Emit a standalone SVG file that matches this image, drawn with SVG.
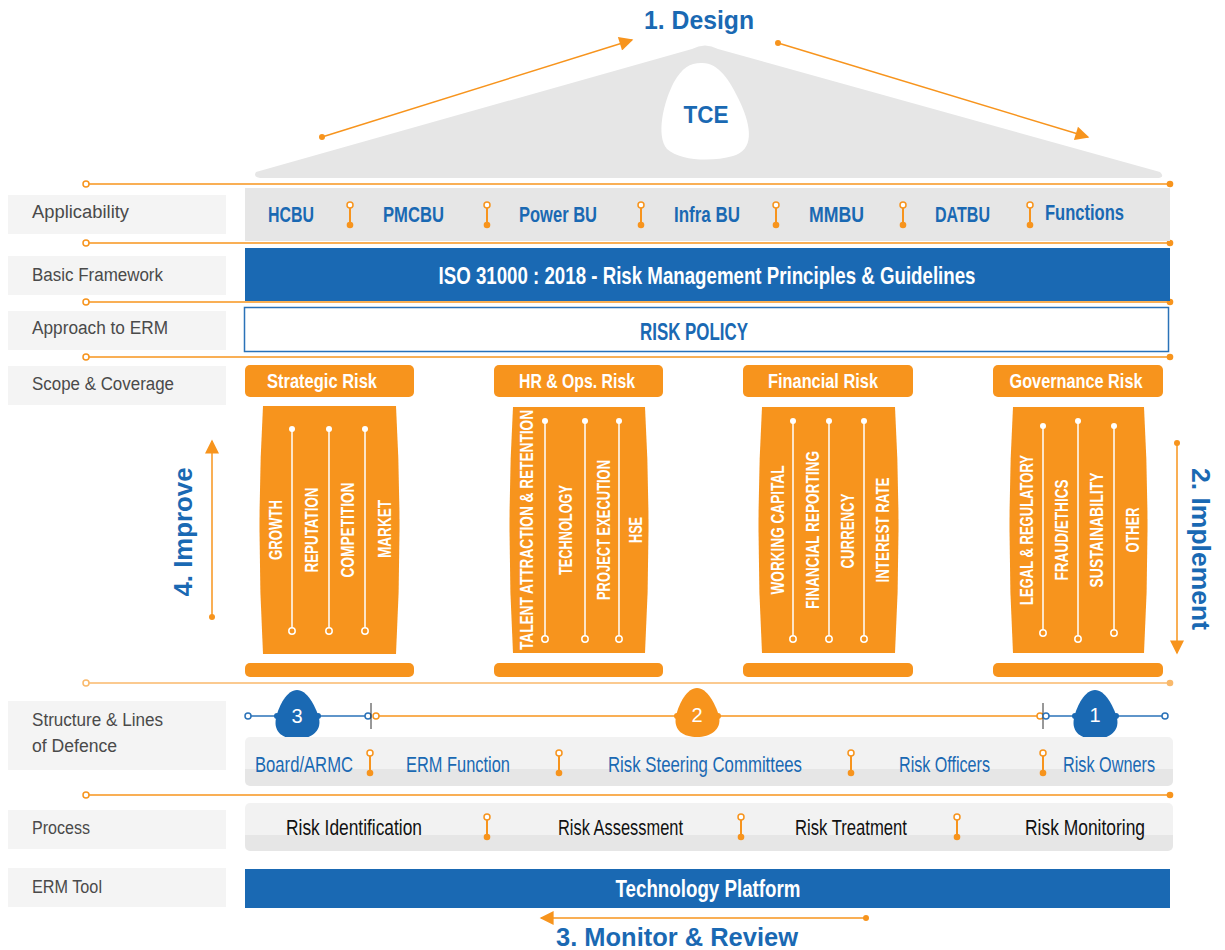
<svg xmlns="http://www.w3.org/2000/svg" width="1225" height="950" viewBox="0 0 1225 950">
<style>
.lbl{fill:#f4f4f4}
.lt{font-family:"Liberation Sans",Arial,sans-serif;font-size:18px;fill:#4a4a4a}
.c{font-family:"Liberation Sans Narrow","Liberation Sans",Arial,sans-serif}
.b{font-weight:bold}
.blue{fill:#1a69b3}
.or{fill:#f7941d}
.wt{fill:#fff}
.bk{fill:#111}
.ol{stroke:#f7941d;stroke-width:1.5;fill:none}
.bl{stroke:#2a72b8;stroke-width:1.5;fill:none}
.pl{stroke:#fff;stroke-width:1.5}
</style>
<defs>
<g id="sep"><line x1="0" y1="0" x2="0" y2="20" stroke="#f7941d" stroke-width="2"/><circle cx="0" cy="0" r="3" fill="#fff" stroke="#f7941d" stroke-width="1.5"/><circle cx="0" cy="20" r="3.3" fill="#f7941d"/></g>
<g id="rule"><line x1="89" y1="0" x2="1170" y2="0" stroke="#f7941d" stroke-width="1.5"/><circle cx="86" cy="0" r="3" fill="#fff" stroke="#f7941d" stroke-width="1.5"/><circle cx="1170" cy="0" r="3.3" fill="#f7941d"/></g>
<marker id="ah" viewBox="0 0 10 10" refX="9" refY="5" markerWidth="16" markerHeight="14" markerUnits="userSpaceOnUse" orient="auto"><path d="M0,0 L10,5 L0,10 Z" fill="#f7941d"/></marker>
<linearGradient id="gb" x1="0" y1="0" x2="0" y2="1"><stop offset="0" stop-color="#f2f2f2"/><stop offset="0.66" stop-color="#f2f2f2"/><stop offset="0.66" stop-color="#e6e6e6"/><stop offset="1" stop-color="#e6e6e6"/></linearGradient>
</defs>

<!-- Roof -->
<g id="roof">
<path d="M264,178 L1156,178 Q1166,178 1160,172 L718,49 Q705,42 692,49 L256,172 Q252,178 264,178 Z" fill="#e6e6e6"/>
<path d="M701,63 C718,62 730,80 740,102 C752,128 754,150 733,156 C712,162 680,161 667,149 C656,136 663,103 674,82 C682,68 690,63 701,63 Z" fill="#fff"/>
<text x="706" y="123" text-anchor="middle" class="c b blue" font-size="24" textLength="45" lengthAdjust="spacingAndGlyphs">TCE</text>
</g>
<text x="699" y="29" text-anchor="middle" class="c b blue" font-size="26" textLength="110" lengthAdjust="spacingAndGlyphs">1. Design</text>

<!-- Connectors -->
<g id="connectors">
<line x1="322" y1="137" x2="632" y2="40" stroke="#f7941d" stroke-width="1.5" marker-end="url(#ah)"/>
<circle cx="322" cy="137" r="3" fill="#f7941d"/>
<line x1="778" y1="43" x2="1088" y2="137" stroke="#f7941d" stroke-width="1.5" marker-end="url(#ah)"/>
<circle cx="778" cy="43" r="3" fill="#f7941d"/>
<line x1="1177" y1="443" x2="1177" y2="653" stroke="#f7941d" stroke-width="1.5" marker-end="url(#ah)"/>
<circle cx="1177" cy="443" r="3" fill="#f7941d"/>
<line x1="212" y1="617" x2="212" y2="441" stroke="#f7941d" stroke-width="1.5" marker-end="url(#ah)"/>
<circle cx="212" cy="617" r="3" fill="#f7941d"/>
<line x1="866" y1="918" x2="541" y2="918" stroke="#f7941d" stroke-width="1.5" marker-end="url(#ah)"/>
<circle cx="866" cy="918" r="3" fill="#f7941d"/>
<use href="#rule" y="184"/>
<use href="#rule" y="243"/>
<use href="#rule" y="302"/>
<use href="#rule" y="357"/>
<use href="#rule" y="683" opacity="0.65"/>
<use href="#rule" y="795"/>
</g>

<text transform="translate(1192,549) rotate(90)" text-anchor="middle" class="c b blue" font-size="26" textLength="162" lengthAdjust="spacingAndGlyphs">2. Implement</text>
<text transform="translate(192,532) rotate(-90)" text-anchor="middle" class="c b blue" font-size="26" textLength="129" lengthAdjust="spacingAndGlyphs">4. Improve</text>
<text x="677" y="946" text-anchor="middle" class="c b blue" font-size="26" textLength="242" lengthAdjust="spacingAndGlyphs">3. Monitor &amp; Review</text>

<!-- Left labels -->
<g id="labels">
<rect class="lbl" x="8" y="195" width="218" height="39"/><text class="lt" x="32" y="218" textLength="97" lengthAdjust="spacingAndGlyphs">Applicability</text>
<rect class="lbl" x="8" y="256" width="218" height="39"/><text class="lt" x="32" y="281" textLength="131" lengthAdjust="spacingAndGlyphs">Basic Framework</text>
<rect class="lbl" x="8" y="311" width="218" height="39"/><text class="lt" x="32" y="334" textLength="136" lengthAdjust="spacingAndGlyphs">Approach to ERM</text>
<rect class="lbl" x="8" y="366" width="218" height="39"/><text class="lt" x="32" y="390" textLength="142" lengthAdjust="spacingAndGlyphs">Scope &amp; Coverage</text>
<rect class="lbl" x="8" y="701" width="218" height="69"/><text class="lt" x="32" y="726" textLength="131" lengthAdjust="spacingAndGlyphs">Structure &amp; Lines</text><text class="lt" x="32" y="752" textLength="85" lengthAdjust="spacingAndGlyphs">of Defence</text>
<rect class="lbl" x="8" y="810" width="218" height="39"/><text class="lt" x="32" y="834" textLength="58" lengthAdjust="spacingAndGlyphs">Process</text>
<rect class="lbl" x="8" y="868" width="218" height="39"/><text class="lt" x="32" y="893" textLength="70" lengthAdjust="spacingAndGlyphs">ERM Tool</text>
</g>

<!-- Applicability -->
<g id="applicability">
<rect x="245" y="188" width="925" height="53" fill="#e6e6e6"/>
<g class="c b blue" font-size="22">
<text x="268" y="222" textLength="46" lengthAdjust="spacingAndGlyphs">HCBU</text>
<text x="383" y="222" textLength="61" lengthAdjust="spacingAndGlyphs">PMCBU</text>
<text x="519" y="222" textLength="78" lengthAdjust="spacingAndGlyphs">Power BU</text>
<text x="674" y="222" textLength="66" lengthAdjust="spacingAndGlyphs">Infra BU</text>
<text x="809" y="222" textLength="55" lengthAdjust="spacingAndGlyphs">MMBU</text>
<text x="935" y="222" textLength="55" lengthAdjust="spacingAndGlyphs">DATBU</text>
<text x="1045" y="220" textLength="79" lengthAdjust="spacingAndGlyphs">Functions</text>
</g>
<use href="#sep" x="350" y="205"/><use href="#sep" x="487" y="205"/><use href="#sep" x="641" y="205"/><use href="#sep" x="776" y="205"/><use href="#sep" x="903" y="205"/><use href="#sep" x="1030" y="205"/>
</g>

<!-- Basic framework -->
<g id="framework">
<rect x="245" y="248" width="925" height="53" fill="#1a69b3"/>
<text x="707" y="284" text-anchor="middle" class="c b wt" font-size="24" textLength="537" lengthAdjust="spacingAndGlyphs">ISO 31000 : 2018 - Risk Management Principles &amp; Guidelines</text>
</g>

<!-- Risk policy -->
<g id="policy">
<rect x="244.5" y="307.5" width="924" height="44" fill="#fff" stroke="#2a72b8" stroke-width="1.5"/>
<text x="694" y="340" text-anchor="middle" class="c b blue" font-size="23" textLength="108" lengthAdjust="spacingAndGlyphs">RISK POLICY</text>
</g>

<!-- Pillars -->
<g id="pillar-strategic">
<rect x="245" y="365" width="169" height="32" rx="5" class="or"/>
<text x="322" y="388" text-anchor="middle" class="c b wt" font-size="21" textLength="110" lengthAdjust="spacingAndGlyphs">Strategic Risk</text>
<path d="M263,406 H396 Q403,530 396,654 H263 Q256,530 263,406 Z" class="or"/>
<rect x="245" y="663" width="169" height="14" rx="5" class="or"/>
<g class="pl"><line x1="292" y1="429" x2="292" y2="631"/><line x1="329" y1="429" x2="329" y2="631"/><line x1="365" y1="429" x2="365" y2="631"/></g>
<g fill="#fff"><circle cx="292" cy="429" r="3"/><circle cx="329" cy="429" r="3"/><circle cx="365" cy="429" r="3"/></g>
<g fill="#f7941d" stroke="#fff" stroke-width="1.5"><circle cx="292" cy="631" r="3.2"/><circle cx="329" cy="631" r="3.2"/><circle cx="365" cy="631" r="3.2"/></g>
<g class="c b wt" font-size="19" text-anchor="middle">
<text transform="translate(282,530) rotate(-90)" textLength="60" lengthAdjust="spacingAndGlyphs">GROWTH</text>
<text transform="translate(318,530) rotate(-90)" textLength="85" lengthAdjust="spacingAndGlyphs">REPUTATION</text>
<text transform="translate(354,530) rotate(-90)" textLength="95" lengthAdjust="spacingAndGlyphs">COMPETITION</text>
<text transform="translate(391,529) rotate(-90)" textLength="58" lengthAdjust="spacingAndGlyphs">MARKET</text>
</g>
</g>

<g id="pillar-hr">
<rect x="494" y="365" width="169" height="32" rx="5" class="or"/>
<text x="577" y="388" text-anchor="middle" class="c b wt" font-size="21" textLength="116" lengthAdjust="spacingAndGlyphs">HR &amp; Ops. Risk</text>
<path d="M513,407 H645 Q652,530 645,653 H513 Q506,530 513,407 Z" class="or"/>
<rect x="494" y="663" width="169" height="14" rx="5" class="or"/>
<g class="pl"><line x1="545" y1="421" x2="545" y2="639"/><line x1="585" y1="421" x2="585" y2="639"/><line x1="619" y1="421" x2="619" y2="639"/></g>
<g fill="#fff"><circle cx="545" cy="421" r="3"/><circle cx="585" cy="421" r="3"/><circle cx="619" cy="421" r="3"/></g>
<g fill="#f7941d" stroke="#fff" stroke-width="1.5"><circle cx="545" cy="639" r="3.2"/><circle cx="585" cy="639" r="3.2"/><circle cx="619" cy="639" r="3.2"/></g>
<g class="c b wt" font-size="19" text-anchor="middle">
<text transform="translate(533,530) rotate(-90)" textLength="240" lengthAdjust="spacingAndGlyphs">TALENT ATTRACTION &amp; RETENTION</text>
<text transform="translate(572,530) rotate(-90)" textLength="90" lengthAdjust="spacingAndGlyphs">TECHNOLOGY</text>
<text transform="translate(610,530) rotate(-90)" textLength="140" lengthAdjust="spacingAndGlyphs">PROJECT EXECUTION</text>
<text transform="translate(642,530) rotate(-90)" textLength="26" lengthAdjust="spacingAndGlyphs">HSE</text>
</g>
</g>

<g id="pillar-financial">
<rect x="743" y="365" width="170" height="32" rx="5" class="or"/>
<text x="823" y="388" text-anchor="middle" class="c b wt" font-size="21" textLength="110" lengthAdjust="spacingAndGlyphs">Financial Risk</text>
<path d="M762,407 H895 Q902,530 895,653 H762 Q755,530 762,407 Z" class="or"/>
<rect x="743" y="663" width="170" height="14" rx="5" class="or"/>
<g class="pl"><line x1="793" y1="421" x2="793" y2="639"/><line x1="829" y1="421" x2="829" y2="639"/><line x1="864" y1="421" x2="864" y2="639"/></g>
<g fill="#fff"><circle cx="793" cy="421" r="3"/><circle cx="829" cy="421" r="3"/><circle cx="864" cy="421" r="3"/></g>
<g fill="#f7941d" stroke="#fff" stroke-width="1.5"><circle cx="793" cy="639" r="3.2"/><circle cx="829" cy="639" r="3.2"/><circle cx="864" cy="639" r="3.2"/></g>
<g class="c b wt" font-size="19" text-anchor="middle">
<text transform="translate(784,530) rotate(-90)" textLength="129" lengthAdjust="spacingAndGlyphs">WORKING CAPITAL</text>
<text transform="translate(819,530) rotate(-90)" textLength="158" lengthAdjust="spacingAndGlyphs">FINANCIAL REPORTING</text>
<text transform="translate(854,531) rotate(-90)" textLength="75" lengthAdjust="spacingAndGlyphs">CURRENCY</text>
<text transform="translate(889,530) rotate(-90)" textLength="105" lengthAdjust="spacingAndGlyphs">INTEREST RATE</text>
</g>
</g>

<g id="pillar-governance">
<rect x="993" y="365" width="170" height="32" rx="5" class="or"/>
<text x="1076" y="388" text-anchor="middle" class="c b wt" font-size="21" textLength="133" lengthAdjust="spacingAndGlyphs">Governance Risk</text>
<path d="M1013,407 H1144 Q1151,530 1144,653 H1013 Q1006,530 1013,407 Z" class="or"/>
<rect x="993" y="663" width="170" height="14" rx="5" class="or"/>
<g class="pl"><line x1="1043" y1="426" x2="1043" y2="633"/><line x1="1078" y1="421" x2="1078" y2="639"/><line x1="1114" y1="426" x2="1114" y2="633"/></g>
<g fill="#fff"><circle cx="1043" cy="426" r="3"/><circle cx="1078" cy="421" r="3"/><circle cx="1114" cy="426" r="3"/></g>
<g fill="#f7941d" stroke="#fff" stroke-width="1.5"><circle cx="1043" cy="633" r="3.2"/><circle cx="1078" cy="639" r="3.2"/><circle cx="1114" cy="633" r="3.2"/></g>
<g class="c b wt" font-size="19" text-anchor="middle">
<text transform="translate(1033,530) rotate(-90)" textLength="150" lengthAdjust="spacingAndGlyphs">LEGAL &amp; REGULATORY</text>
<text transform="translate(1068,530) rotate(-90)" textLength="101" lengthAdjust="spacingAndGlyphs">FRAUD/ETHICS</text>
<text transform="translate(1103,530) rotate(-90)" textLength="115" lengthAdjust="spacingAndGlyphs">SUSTAINABILITY</text>
<text transform="translate(1139,530) rotate(-90)" textLength="45" lengthAdjust="spacingAndGlyphs">OTHER</text>
</g>
</g>

<!-- Lines of defence markers -->
<g id="defence-lines">
<line x1="251" y1="716" x2="366" y2="716" class="bl"/>
<circle cx="248" cy="716" r="3" fill="#fff" stroke="#2a72b8" stroke-width="1.5"/>
<circle cx="368" cy="716" r="3" fill="#fff" stroke="#2a72b8" stroke-width="1.5"/>
<line x1="371" y1="703" x2="371" y2="729" stroke="#333" stroke-width="1"/>
<line x1="379" y1="716" x2="1037" y2="716" class="ol"/>
<circle cx="376" cy="716" r="3" fill="#fff" stroke="#f7941d" stroke-width="1.5"/>
<circle cx="1040" cy="716" r="3" fill="#fff" stroke="#f7941d" stroke-width="1.5"/>
<line x1="1043" y1="703" x2="1043" y2="729" stroke="#333" stroke-width="1"/>
<line x1="1049" y1="716" x2="1162" y2="716" class="bl"/>
<circle cx="1046" cy="716" r="3" fill="#fff" stroke="#2a72b8" stroke-width="1.5"/>
<circle cx="1165" cy="716" r="3" fill="#fff" stroke="#2a72b8" stroke-width="1.5"/>
</g>
<g id="line3">
<path d="M297,690 C307,690 315,705 319,718 C322,732 310,739 297,739 C284,739 273,733 276,718 C279,705 287,690 297,690 Z" fill="#1a69b3"/>
<circle cx="277" cy="716" r="3" fill="#1a69b3"/><circle cx="318" cy="716" r="3" fill="#1a69b3"/>
<text x="297" y="723" text-anchor="middle" class="c wt" font-size="20">3</text>
</g>
<g id="line2">
<path d="M697,688 C707,688 715,703 719,716 C722,730 710,737 697,737 C684,737 673,731 676,716 C679,703 687,688 697,688 Z" fill="#f7941d"/>
<circle cx="677" cy="716" r="3" fill="#f7941d"/><circle cx="718" cy="716" r="3" fill="#f7941d"/>
<text x="697" y="722" text-anchor="middle" class="c wt" font-size="20">2</text>
</g>
<g id="line1">
<path d="M1095,690 C1105,690 1113,705 1117,718 C1120,732 1108,739 1095,739 C1082,739 1071,733 1074,718 C1077,705 1085,690 1095,690 Z" fill="#1a69b3"/>
<circle cx="1075" cy="716" r="3" fill="#1a69b3"/><circle cx="1116" cy="716" r="3" fill="#1a69b3"/>
<text x="1095" y="722" text-anchor="middle" class="c wt" font-size="20">1</text>
</g>

<!-- Structure bar -->
<g id="structure">
<rect x="245" y="737" width="928" height="49" rx="5" fill="url(#gb)"/>
<g class="c blue" font-size="22">
<text x="255" y="772" textLength="98" lengthAdjust="spacingAndGlyphs">Board/ARMC</text>
<text x="406" y="772" textLength="104" lengthAdjust="spacingAndGlyphs">ERM Function</text>
<text x="608" y="772" textLength="194" lengthAdjust="spacingAndGlyphs">Risk Steering Committees</text>
<text x="899" y="772" textLength="91" lengthAdjust="spacingAndGlyphs">Risk Officers</text>
<text x="1063" y="772" textLength="92" lengthAdjust="spacingAndGlyphs">Risk Owners</text>
</g>
<use href="#sep" x="370" y="753"/><use href="#sep" x="559" y="753"/><use href="#sep" x="851" y="753"/><use href="#sep" x="1043" y="753"/>
</g>

<!-- Process bar -->
<g id="process">
<rect x="245" y="803" width="928" height="48" rx="5" fill="url(#gb)"/>
<g class="c bk" font-size="22">
<text x="286" y="835" textLength="136" lengthAdjust="spacingAndGlyphs">Risk Identification</text>
<text x="558" y="835" textLength="125" lengthAdjust="spacingAndGlyphs">Risk Assessment</text>
<text x="795" y="835" textLength="112" lengthAdjust="spacingAndGlyphs">Risk Treatment</text>
<text x="1025" y="835" textLength="120" lengthAdjust="spacingAndGlyphs">Risk Monitoring</text>
</g>
<use href="#sep" x="487" y="817"/><use href="#sep" x="741" y="817"/><use href="#sep" x="957" y="817"/>
</g>

<!-- ERM tool -->
<g id="tool">
<rect x="245" y="869" width="925" height="39" fill="#1a69b3"/>
<text x="708" y="897" text-anchor="middle" class="c b wt" font-size="24" textLength="185" lengthAdjust="spacingAndGlyphs">Technology Platform</text>
</g>
</svg>
